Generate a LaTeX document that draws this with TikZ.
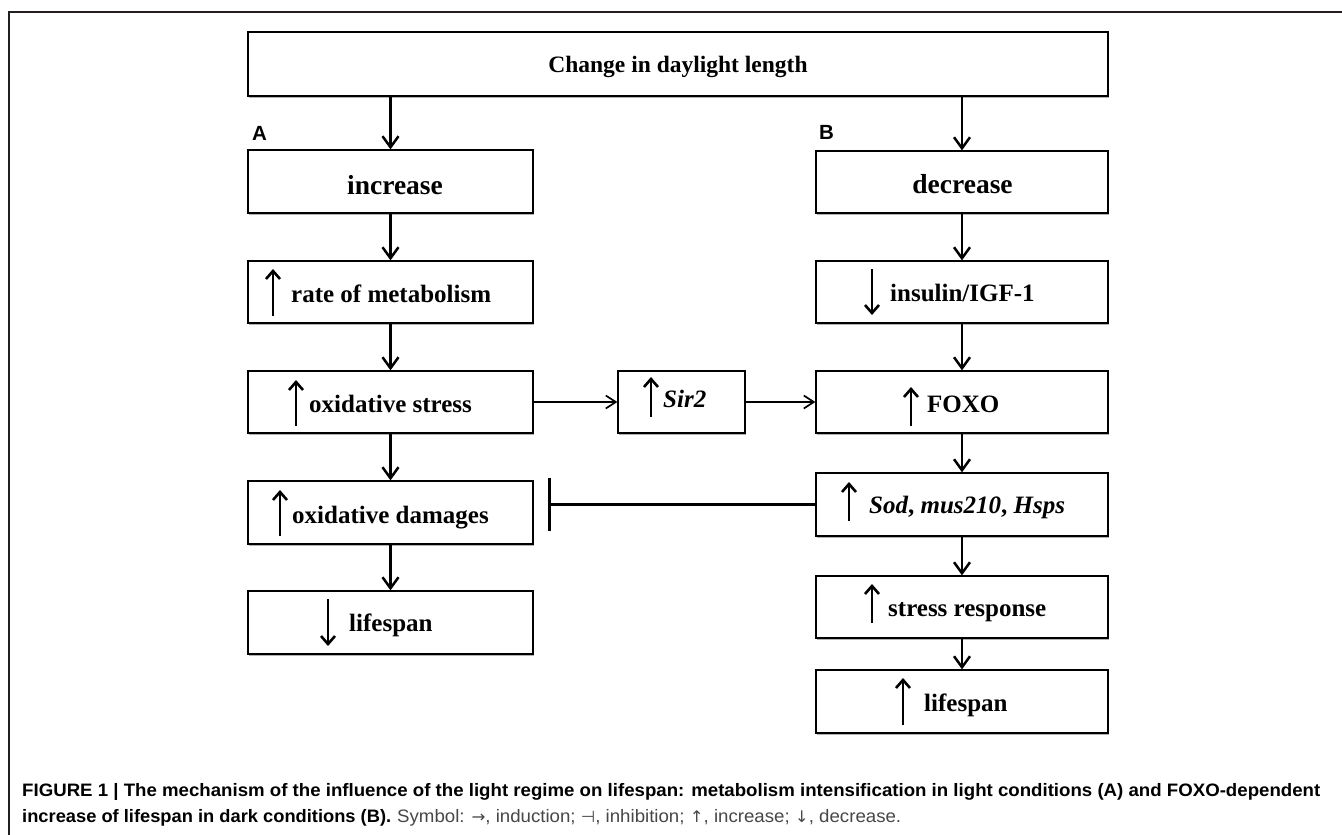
\documentclass[tikz,border=0pt]{standalone}
\usepackage{fontspec}
\setmainfont{Liberation Serif}
\newfontfamily\capfont{Liberation Sans}
\newfontfamily\symfont{DejaVu Sans}
\usetikzlibrary{arrows.meta,shadows}
\definecolor{ink}{HTML}{231F20}
\newsavebox\capboxa
\newsavebox\capboxb
\newsavebox\capboxc
\newdimen\capw
\newcommand{\capsym}[1]{{\symfont\fontsize{16}{18}\selectfont #1}}
\begin{document}
\sbox\capboxa{\capfont\fontsize{18}{20}\selectfont\bfseries FIGURE 1 | The mechanism of the influence of the light regime on lifespan: metabolism intensification in light conditions (A) and FOXO-dependent}%
\sbox\capboxb{\capfont\fontsize{18}{20}\selectfont\bfseries increase of lifespan in dark conditions (B).}%
\sbox\capboxc{\capfont\fontsize{18}{20}\selectfont\color{black!72}Symbol: \capsym{→}, induction; \capsym{⊣}, inhibition; \capsym{↑}, increase; \capsym{↓}, decrease.}%
\capw=\wd\capboxa
\pgfmathsetmacro\capfa{1298/\the\capw}%
\capw=\wd\capboxb
\pgfmathsetmacro\capfb{369/\the\capw}%
\capw=\wd\capboxc
\pgfmathsetmacro\capfc{504/\the\capw}%
\begin{tikzpicture}[x=1pt,y=-1pt,
  box/.style={draw=black, line width=1.3pt, fill=white, inner sep=0pt,
    drop shadow={shadow xshift=1pt, shadow yshift=-1.5pt, opacity=0.3, fill=black}},
  txt/.style={inner sep=0pt, anchor=base west, font=\fontsize{25}{30}\selectfont\bfseries},
  big/.style={inner sep=0pt, anchor=base, font=\fontsize{27.5}{32}\selectfont\bfseries},
  panel/.style={inner sep=0pt, anchor=base west, font=\capfont\fontsize{20.5}{22}\selectfont\bfseries},
  flow/.style={line width=2.5pt, -{Straight Barb[length=11pt,width=16pt]}},
  side/.style={line width=1.7pt, -{Straight Barb[length=10pt,width=13pt]}},
  inhib/.style={line width=2.3pt, -{Bar[width=53pt,line width=3pt]}},
  glyph/.style={line width=2.6pt, -{Straight Barb[length=8pt,width=14pt]}},
  captxt/.style={inner sep=0pt, anchor=base west, text=ink}
]
\fill[white] (0,0) rectangle (1342,835);
\useasboundingbox (0,0) rectangle (1342,835);
% frame
\draw[ink, line width=2pt] (1342,12) -- (9,12) -- (9,835);

% boxes
\node[box, minimum width=860pt, minimum height=64pt] (top) at (678,64) {};
\node[box, minimum width=285pt, minimum height=63pt] (inc) at (390.5,181.5) {};
\node[box, minimum width=285pt, minimum height=62pt] (rate) at (390.5,292) {};
\node[box, minimum width=285pt, minimum height=62pt] (os) at (390.5,402) {};
\node[box, minimum width=285pt, minimum height=63pt] (od) at (390.5,512.5) {};
\node[box, minimum width=285pt, minimum height=63pt] (lsa) at (390.5,622.5) {};
\node[box, minimum width=292pt, minimum height=62pt] (dec) at (962,182) {};
\node[box, minimum width=292pt, minimum height=62pt] (ins) at (962,292) {};
\node[box, minimum width=292pt, minimum height=62pt] (foxo) at (962,402) {};
\node[box, minimum width=292pt, minimum height=63pt] (sod) at (962,504.5) {};
\node[box, minimum width=292pt, minimum height=62pt] (sr) at (962,607) {};
\node[box, minimum width=292pt, minimum height=63pt] (lsb) at (962,701.5) {};
\node[box, minimum width=127pt, minimum height=62pt] (sir) at (681.5,402) {};

% texts
\node[inner sep=0pt, anchor=base, font=\fontsize{23.5}{28}\selectfont\bfseries] (ttop) at (678,72) {Change in daylight length};
\node[big] (tinc) at (395,194) {increase};
\node[big] (tdec) at (962.5,193) {decrease};
\node[txt] (trate) at (291,302) {rate of metabolism};
\node[txt] (tos) at (309,412) {oxidative stress};
\node[txt] (tsir) at (663,407) {\itshape Sir2};
\node[txt] (tod) at (292,523) {oxidative damages};
\node[txt] (tlsa) at (349,631) {lifespan};
\node[txt] (tins) at (890,301) {insulin/IGF-1};
\node[txt] (tfoxo) at (927,412) {FOXO};
\node[txt] (tsod) at (869,513) {\textit{Sod}, \textit{mus210}, \textit{Hsps}};
\node[txt] (tsr) at (888,616) {stress response};
\node[txt] (tlsb) at (924,711) {lifespan};

% panel labels
\node[panel] (la) at (252,140) {A};
\node[panel] (lb) at (819,139) {B};

% glyph arrows inside boxes
\draw[glyph] (273,316) -- (273,269);
\draw[glyph] (296,426) -- (296,380);
\draw[glyph] (651,417) -- (651,377);
\draw[glyph] (280,536) -- (280,490);
\draw[glyph] (328,599) -- (328,646);
\draw[glyph] (872,269) -- (872,315);
\draw[glyph] (911,426) -- (911,387);
\draw[glyph] (849,521) -- (849,482);
\draw[glyph] (872,623) -- (872,584);
\draw[glyph] (903,725) -- (903,678);

% connectors
\draw[flow] (top.south -| inc.north) -- (inc.north);
\draw[flow] (top.south -| dec.north) -- (dec.north);
\draw[flow] (inc.south) -- (rate.north);
\draw[flow] (rate.south) -- (os.north);
\draw[flow] (os.south) -- (od.north);
\draw[flow] (od.south) -- (lsa.north);
\draw[flow] (dec.south) -- (ins.north);
\draw[flow] (ins.south) -- (foxo.north);
\draw[flow] (foxo.south) -- (sod.north);
\draw[flow] (sod.south) -- (sr.north);
\draw[flow] (sr.south) -- (lsb.north);
\draw[side] (os.east) -- (sir.west);
\draw[side] (sir.east) -- (foxo.west);
\coordinate (bar) at (548,504.5);
\draw[inhib] (sod.west) -- (bar);

% caption
\node[captxt] (cap1) at (22,796) {\scalebox{\capfa}[1]{\usebox\capboxa}};
\node[captxt] (cap2) at (22,822) {\scalebox{\capfb}[1]{\usebox\capboxb}\hspace{6pt}\scalebox{\capfc}[1]{\usebox\capboxc}};
\end{tikzpicture}
\end{document}
